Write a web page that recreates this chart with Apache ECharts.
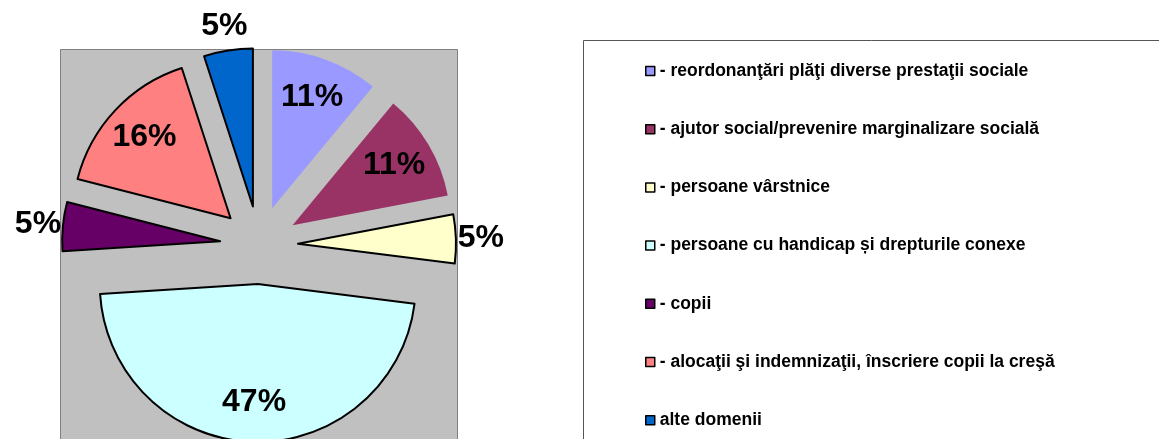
<!DOCTYPE html>
<html>
<head>
<meta charset="utf-8" />
<title>Structura cheltuielilor</title>
<script src="https://cdn.jsdelivr.net/npm/echarts@6/dist/echarts.min.js"></script>
<style>
  html, body { margin: 0; padding: 0; background: #fff; }
  #chart { width: 1159px; height: 439px; }
</style>
</head>
<body>
<div id="chart"></div>
<script>
  // categorii si procente
  var names = [
    '- reordonanţări plăţi diverse prestaţii sociale',
    '- ajutor social/prevenire marginalizare socială',
    '- persoane vârstnice',
    '- persoane cu handicap și drepturile conexe',
    '- copii',
    '- alocaţii şi indemnizaţii, înscriere copii la creşă',
    'alte domenii'
  ];
  var values = [11, 11, 5, 47, 5, 16, 5];

  var chart = echarts.init(document.getElementById('chart'));

  var cx = 259, cy = 245, r = 158, gap = 39;
  var font = '"Liberation Sans", Arial, sans-serif';

  // felii principale
  var mainData = values.map(function (v, i) {
    return {
      name: names[i],
      value: v,
      selected: true,
      itemStyle: { borderColor: '#000', borderWidth: i < 2 ? 0 : 2 }
    };
  });

  // serii ajutatoare doar pentru pozitia etichetelor
  function labelData(small) {
    return values.map(function (v, i) {
      var isSmall = v < 10;
      return {
        name: names[i],
        value: v,
        selected: true,
        itemStyle: { color: 'rgba(0,0,0,0)', borderWidth: 0 },
        label: { show: isSmall === small }
      };
    });
  }

  var labelStyle = {
    position: 'inside',
    formatter: '{d}%',
    color: '#000',
    fontFamily: font,
    fontWeight: 'bold',
    fontSize: 32
  };

  var option = {
    animation: false,
    color: ['#9999FF', '#993366', '#FFFFCC', '#CCFFFF', '#660066', '#FF8080', '#0066CC'],
    graphic: [
      {
        type: 'rect', z: -10, silent: true,
        shape: { x: 60.5, y: 49.5, width: 397, height: 400 },
        style: { fill: '#C0C0C0', stroke: '#808080', lineWidth: 1 }
      },
      {
        type: 'rect', z: -10, silent: true,
        shape: { x: 583.5, y: 40.5, width: 600, height: 420 },
        style: { fill: '#fff', stroke: '#555', lineWidth: 1 }
      }
    ],
    legend: {
      orient: 'vertical',
      left: 640,
      top: 57,
      itemWidth: 9,
      itemHeight: 9,
      itemGap: 40.2,
      icon: 'rect',
      selectedMode: false,
      data: names,
      itemStyle: { borderColor: '#000', borderWidth: 1.5 },
      textStyle: { color: '#000', fontFamily: font, fontWeight: 'bold', fontSize: 17.5 }
    },
    series: [
      {
        type: 'pie',
        center: [cx, cy],
        radius: [0, r],
        startAngle: 90,
        selectedMode: 'multiple',
        selectedOffset: gap,
        silent: true,
        label: { show: false },
        labelLine: { show: false },
        emphasis: { disabled: true },
        data: mainData
      },
      {
        type: 'pie',
        center: [cx, cy],
        radius: [0, 230],
        startAngle: 90,
        selectedMode: 'multiple',
        selectedOffset: gap,
        silent: true,
        avoidLabelOverlap: false,
        label: labelStyle,
        labelLine: { show: false },
        emphasis: { disabled: true },
        data: labelData(false)
      },
      {
        type: 'pie',
        center: [cx, cy],
        radius: [0, 360],
        startAngle: 90,
        selectedMode: 'multiple',
        selectedOffset: gap,
        silent: true,
        avoidLabelOverlap: false,
        label: labelStyle,
        labelLine: { show: false },
        emphasis: { disabled: true },
        data: labelData(true)
      }
    ]
  };

  chart.setOption(option);
</script>
</body>
</html>
